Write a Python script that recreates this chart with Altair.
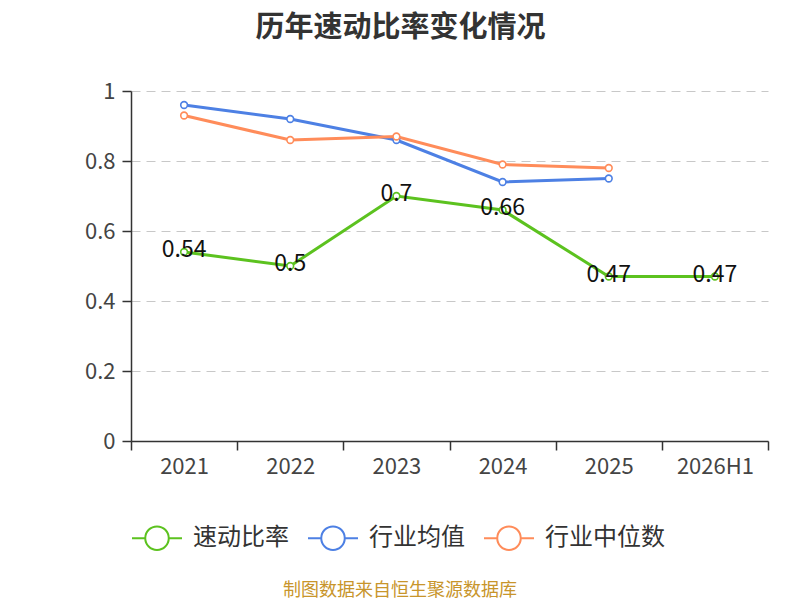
import altair as alt
import pandas as pd

years = ["2021", "2022", "2023", "2024", "2025", "2026H1"]
quick_ratio = [0.54, 0.50, 0.70, 0.66, 0.47, 0.47]
industry_avg = [0.96, 0.92, 0.86, 0.74, 0.75]
industry_median = [0.93, 0.86, 0.87, 0.79, 0.78]

series_names = ["速动比率", "行业均值", "行业中位数"]
colors = ["#5cc21f", "#4d80e4", "#ff8c5a"]

rows = []
for y, v in zip(years, quick_ratio):
    rows.append({"year": y, "value": v, "series": series_names[0]})
for y, v in zip(years, industry_avg):
    rows.append({"year": y, "value": v, "series": series_names[1]})
for y, v in zip(years, industry_median):
    rows.append({"year": y, "value": v, "series": series_names[2]})
df = pd.DataFrame(rows)

FONT = "Noto Sans CJK SC"
W, H = 637, 350

legend_path = ("M-1,0L-0.47,0M0.47,0L1,0M0.47,0A0.47,0.47,0,1,1,-0.47,0"
               "A0.47,0.47,0,1,1,0.47,0Z")

x_enc = alt.X("year:N", sort=years, title=None,
              scale=alt.Scale(domain=years, paddingInner=0, paddingOuter=0),
              axis=alt.Axis(labelAngle=0, tickBand="extent", labelFontSize=22,
                            labelColor="#444", labelPadding=6, tickSize=9,
                            domainColor="#333", tickColor="#333", grid=False,
                            labelFont=FONT, domainWidth=1.5, tickWidth=1.5))
y_enc = alt.Y("value:Q", title=None,
              scale=alt.Scale(domain=[0, 1], nice=False),
              axis=alt.Axis(values=[0, 0.2, 0.4, 0.6, 0.8, 1], format="~g",
                            labelFontSize=22, labelColor="#444", labelPadding=7,
                            tickSize=9, domainColor="#333", tickColor="#333",
                            grid=True, gridDash=[9, 6], gridColor="#c8c8c8",
                            labelFont=FONT, domainWidth=1.5, tickWidth=1.5))
color_enc = alt.Color("series:N", sort=series_names,
                      scale=alt.Scale(domain=series_names, range=colors),
                      legend=alt.Legend(title=None, orient="none", direction="horizontal",
                                        legendX=0, legendY=421,
                                        symbolType=legend_path, symbolSize=2500,
                                        symbolStrokeWidth=2, symbolFillColor="white",
                                        labelFontSize=24, labelColor="#333",
                                        labelFont=FONT, columnPadding=15,
                                        labelOffset=10))

base = alt.Chart(df)
lines = base.mark_line(strokeWidth=3).encode(x=x_enc, y=y_enc, color=color_enc)
points = base.mark_point(filled=True, fill="white", size=45, strokeWidth=1.6, opacity=1).encode(
    x=x_enc, y=y_enc, stroke=alt.Stroke("series:N", scale=alt.Scale(domain=series_names, range=colors), legend=None))
labels = base.transform_filter(alt.datum.series == series_names[0]).mark_text(
    fontSize=23, color="#111", baseline="middle", align="center", font=FONT, dy=-2
).encode(x=x_enc, y=y_enc, text=alt.Text("value:Q", format="~g"))

source = alt.Chart(pd.DataFrame({"t": ["制图数据来自恒生聚源数据库"]})).mark_text(
    fontSize=18, color="#c8952b", font=FONT, align="center", baseline="middle"
).encode(x=alt.value(269), y=alt.value(500), text="t:N")

chart = alt.layer(lines, points, labels, source).properties(
    width=W, height=H,
    padding={"left": 123, "top": 83, "right": 24, "bottom": 170},
    autosize=alt.AutoSizeParams(type="none"),
    title=alt.Title("历年速动比率变化情况", fontSize=29, fontWeight="bold", color="#333",
                    font=FONT, anchor="middle", dx=-49, offset=37),
).configure_view(stroke=None)

chart.save("out.html", embed_options={"renderer": "svg", "actions": False})
